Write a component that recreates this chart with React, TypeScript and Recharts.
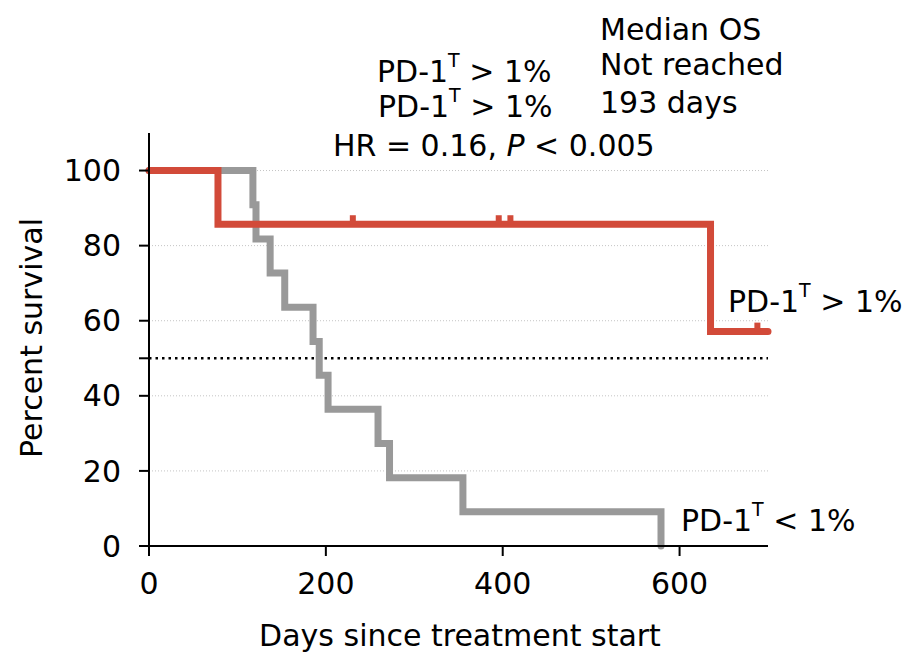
import React from 'react';
import { ComposedChart, Line, Scatter, XAxis, YAxis, ReferenceLine } from 'recharts';

// Kaplan-Meier step points: PD-1T > 1% (red)
const highDays = [0, 78, 635, 700];
const highSurv = [100, 85.7, 57.1, 57.1];
// censor marks for the red curve
const highCensorDays = [230.5, 395.5, 408.7, 688];
const highCensorSurv = [85.7, 85.7, 85.7, 57.1];
// PD-1T < 1% (grey)
const lowDays = [0, 117.5, 121, 137, 153.5, 185.5, 192.5, 202.5, 259, 272, 355, 579];
const lowSurv = [100, 90.9, 81.8, 72.7, 63.6, 54.5, 45.5, 36.4, 27.3, 18.2, 9.1, 0];

const xTicks = [0, 200, 400, 600];
const yTicks = [0, 20, 40, 50, 60, 80, 100];
const gridValues = [20, 40, 60, 80, 100];

const highData = highDays.map((d, i) => ({ day: d, s: highSurv[i] }));
const highCensor = highCensorDays.map((d, i) => ({ day: d, s: highCensorSurv[i] }));
const lowData = lowDays.map((d, i) => ({ day: d, s: lowSurv[i] }));

const RED = '#d24a39';
const GREY = '#999999';
const FONT = 'DejaVu Sans';

const CensorShape = (props: any) => {
  const { cx, cy } = props;
  if (cx == null || cy == null) return null;
  return <rect x={cx - 3} y={cy - 9} width={6} height={9} fill={RED} />;
};

const Sup = ({ x, y, rest }: { x: number; y: number; rest: string }) => (
  <text x={x} y={y} fontSize={30} fontFamily={FONT} fill="#000">
    PD-1
    <tspan fontSize={19} dy={-15}>T</tspan>
    <tspan dy={15}>{rest}</tspan>
  </text>
);

export default function App() {
  return (
    <div style={{ position: 'absolute', left: 0, top: 0, width: 911, height: 655, background: '#fff' }}>
      <ComposedChart
        width={911}
        height={655}
        margin={{ top: 133, right: 143, left: 89, bottom: 49 }}
      >
        <XAxis
          type="number"
          dataKey="day"
          domain={[0, 700]}
          ticks={xTicks}
          height={60}
          tickSize={10}
          tickMargin={17}
          axisLine={{ stroke: '#000', strokeWidth: 2 }}
          tickLine={{ stroke: '#000', strokeWidth: 2 }}
          tick={{ fontSize: 30, fill: '#000', fontFamily: FONT }}
          allowDuplicatedCategory={false}
        />
        <YAxis
          type="number"
          domain={[0, 110]}
          ticks={yTicks}
          width={60}
          tickSize={10}
          tickMargin={18}
          interval={0}
          tickFormatter={(v: number) => (v === 50 ? '' : String(v))}
          axisLine={{ stroke: '#000', strokeWidth: 2 }}
          tickLine={{ stroke: '#000', strokeWidth: 2 }}
          tick={{ fontSize: 30, fill: '#000', fontFamily: FONT }}
        />
        {gridValues.map((v) => (
          <ReferenceLine key={v} y={v} stroke="#c4c4c4" strokeWidth={1} strokeDasharray="1 2" />
        ))}
        <ReferenceLine y={50} stroke="#000" strokeWidth={2.5} strokeDasharray="2.5 4" />
        <Line
          data={lowData}
          dataKey="s"
          type="stepAfter"
          stroke={GREY}
          strokeWidth={7}
          strokeLinecap="round"
          strokeLinejoin="miter"
          dot={false}
          activeDot={false}
          isAnimationActive={false}
        />
        <Line
          data={highData}
          dataKey="s"
          type="stepAfter"
          stroke={RED}
          strokeWidth={7}
          strokeLinecap="round"
          strokeLinejoin="miter"
          dot={false}
          activeDot={false}
          isAnimationActive={false}
        />
        <Scatter data={highCensor} dataKey="s" shape={CensorShape} isAnimationActive={false} />
      </ComposedChart>
      <svg
        width={911}
        height={655}
        style={{ position: 'absolute', left: 0, top: 0, pointerEvents: 'none' }}
      >
        <text x={42} y={338} transform="rotate(-90, 42, 338)" textAnchor="middle" fontSize={30} fontFamily={FONT} fill="#000">
          Percent survival
        </text>
        <text x={460} y={646} textAnchor="middle" fontSize={30} fontFamily={FONT} fill="#000">
          Days since treatment start
        </text>
        <Sup x={377} y={82} rest=" > 1%" />
        <Sup x={378} y={117} rest=" > 1%" />
        <text x={333} y={156} fontSize={30} fontFamily={FONT} fill="#000">
          HR = 0.16, <tspan fontStyle="italic">P</tspan> &lt; 0.005
        </text>
        <text x={600} y={40} fontSize={30} fontFamily={FONT} fill="#000">Median OS</text>
        <text x={600} y={75} fontSize={30} fontFamily={FONT} fill="#000">Not reached</text>
        <text x={600} y={113} fontSize={30} fontFamily={FONT} fill="#000">193 days</text>
        <Sup x={728} y={312} rest=" > 1%" />
        <Sup x={681} y={531} rest=" < 1%" />
      </svg>
    </div>
  );
}
